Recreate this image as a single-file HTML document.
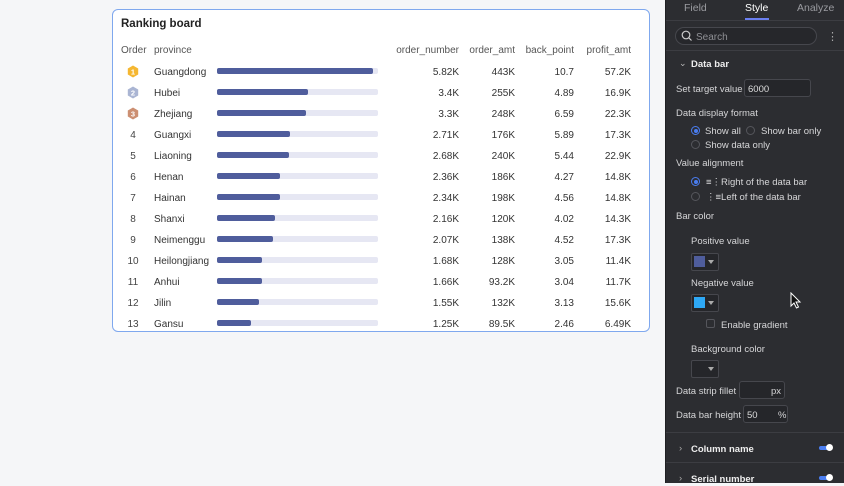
<!DOCTYPE html>
<html><head><meta charset="utf-8"><style>
*{margin:0;padding:0;box-sizing:border-box}
body{width:844px;height:483px;overflow:hidden;background:#f5f6f8;font-family:"Liberation Sans",sans-serif;position:relative}
.a{position:absolute;white-space:nowrap}
#card{position:absolute;left:112px;top:9px;width:538px;height:323px;background:#fff;border:1px solid #7fa8ee;border-radius:6px;overflow:hidden}
.t{font-size:10px;color:#333;line-height:14px;margin-top:1.5px}
.h{font-size:10px;color:#555;line-height:14px;margin-top:1.5px}
.r{text-align:right}
.bar{position:absolute;left:104px;width:161px;height:6px;background:#e6e7f3;border-radius:2px}
.bar i{position:absolute;left:0;top:0;height:6px;background:#4f5d9c;border-radius:2px}
#panel{position:absolute;left:665px;top:0;width:179px;height:483px;background:#2c2d31;border-left:1px solid #1f2023;color:#d6d6d8;font-size:9.5px}
.p{position:absolute;white-space:nowrap;line-height:12px;margin-top:1.5px}
.sep{position:absolute;left:0;width:179px;height:1px;background:#3c3d42}
.box{position:absolute;border:1px solid #46474d;border-radius:3px;background:#25262a}
.rad{position:absolute;width:9px;height:9px;border-radius:50%;border:1px solid #55565c}
.rad.on{border-color:#4a7df0}
.rad.on:after{content:"";position:absolute;left:1.5px;top:1.5px;width:4px;height:4px;border-radius:50%;background:#4a7df0}
.tri{position:absolute;width:0;height:0;border-left:3.5px solid transparent;border-right:3.5px solid transparent;border-top:4px solid #aaa}
.tog{position:absolute;width:12px;height:4px;background:#4a7df0;border-radius:2px}
.tog:after{content:"";position:absolute;right:-2px;top:-2px;width:7px;height:7px;border-radius:50%;background:#fff}
</style></head><body>
<div id="card">
<div class="a" style="left:8px;top:7px;font-size:11.5px;font-weight:bold;color:#222;line-height:14px">Ranking board</div>
<div class="a h" style="left:8px;top:32px">Order</div>
<div class="a h" style="left:41px;top:32px">province</div>
<div class="a h r" style="left:246px;width:100px;top:32px">order_number</div>
<div class="a h r" style="left:302px;width:100px;top:32px">order_amt</div>
<div class="a h r" style="left:361px;width:100px;top:32px">back_point</div>
<div class="a h r" style="left:418px;width:100px;top:32px">profit_amt</div>
<div id="rows"></div>
</div>
<div id="panel">
<div class="p" style="left:18px;top:0px;font-size:10.5px;color:#9a9ba0">Field</div>
<div class="p" style="left:79px;top:0px;font-size:10.5px;color:#fff">Style</div>
<div class="p" style="left:131px;top:0px;font-size:10.5px;color:#9a9ba0">Analyze</div>
<div class="a" style="left:79px;top:18px;width:24px;height:2px;background:#6b7ff0"></div>
<div class="sep" style="top:20px"></div>
<div class="box" style="left:9px;top:27px;width:142px;height:18px;border-radius:9px;background:#26272b"></div>
<svg class="a" style="left:15px;top:30px" width="12" height="12" viewBox="0 0 12 12"><circle cx="5" cy="5" r="3.8" fill="none" stroke="#ccc" stroke-width="1.2"/><line x1="7.8" y1="7.8" x2="10.5" y2="10.5" stroke="#ccc" stroke-width="1.2"/></svg>
<div class="p" style="left:30px;top:30px;font-size:10px;color:#8e8f94">Search</div>
<div class="p" style="left:161px;top:29px;font-size:11px;color:#aaa">&#8942;</div>
<div class="sep" style="top:50px"></div>
<div class="p" style="left:13px;top:55px;font-size:9px;color:#bbb">&#8964;</div>
<div class="p" style="left:25px;top:57px;font-weight:bold;color:#eee">Data bar</div>
<div class="p" style="left:10px;top:82px">Set target value</div>
<div class="box" style="left:78px;top:79px;width:67px;height:18px"></div>
<div class="p" style="left:82px;top:82px;color:#ddd">6000</div>
<div class="p" style="left:10px;top:106px">Data display format</div>
<div class="rad on" style="left:25px;top:126px"></div>
<div class="p" style="left:39px;top:124px">Show all</div>
<div class="rad" style="left:80px;top:126px"></div>
<div class="p" style="left:95px;top:124px">Show bar only</div>
<div class="rad" style="left:25px;top:140px"></div>
<div class="p" style="left:39px;top:138px">Show data only</div>
<div class="p" style="left:10px;top:156px">Value alignment</div>
<div class="rad on" style="left:25px;top:177px"></div>
<div class="p" style="left:40px;top:175px">&#8801;&#8942;Right of the data bar</div>
<div class="rad" style="left:25px;top:192px"></div>
<div class="p" style="left:40px;top:190px">&#8942;&#8801;Left of the data bar</div>
<div class="p" style="left:10px;top:209px">Bar color</div>
<div class="p" style="left:25px;top:234px">Positive value</div>
<div class="box" style="left:25px;top:253px;width:28px;height:18px;border-radius:2px"></div>
<div class="a" style="left:28px;top:256px;width:11px;height:11px;background:#4f5d9c"></div>
<div class="tri" style="left:42px;top:260px"></div>
<div class="p" style="left:25px;top:276px">Negative value</div>
<div class="box" style="left:25px;top:294px;width:28px;height:18px;border-radius:2px"></div>
<div class="a" style="left:28px;top:297px;width:11px;height:11px;background:#2ea8f5"></div>
<div class="tri" style="left:42px;top:301px"></div>
<svg class="a" style="left:124px;top:292px" width="12" height="18" viewBox="0 0 12 18"><path d="M1 1 L1 14 L4 11 L6.5 16 L8.5 15 L6 10 L10 10 Z" fill="#111" stroke="#fff" stroke-width="1"/></svg>
<div class="a" style="left:40px;top:319px;width:9px;height:9px;border:1px solid #55565c;border-radius:2px"></div>
<div class="p" style="left:55px;top:318px">Enable gradient</div>
<div class="p" style="left:25px;top:342px">Background color</div>
<div class="box" style="left:25px;top:360px;width:28px;height:18px;border-radius:2px"></div>
<div class="tri" style="left:42px;top:367px"></div>
<div class="p" style="left:10px;top:384px">Data strip fillet</div>
<div class="box" style="left:73px;top:381px;width:46px;height:18px"></div>
<div class="p" style="left:105px;top:384px">px</div>
<div class="p" style="left:10px;top:408px">Data bar height</div>
<div class="box" style="left:77px;top:405px;width:45px;height:18px"></div>
<div class="p" style="left:81px;top:408px;color:#ddd">50</div>
<div class="p" style="left:112px;top:408px">%</div>
<div class="sep" style="top:432px"></div>
<div class="p" style="left:13px;top:441px;color:#aaa">&#8250;</div>
<div class="p" style="left:25px;top:442px;font-weight:bold;color:#eee">Column name</div>
<div class="tog" style="left:153px;top:446px"></div>
<div class="sep" style="top:462px"></div>
<div class="p" style="left:13px;top:471px;color:#aaa">&#8250;</div>
<div class="p" style="left:25px;top:472px;font-weight:bold;color:#eee">Serial number</div>
<div class="tog" style="left:153px;top:476px"></div>
</div>
<script>
(function(){
var d=[["Guangdong",5.82,"5.82K","443K","10.7","57.2K"],["Hubei",3.4,"3.4K","255K","4.89","16.9K"],["Zhejiang",3.3,"3.3K","248K","6.59","22.3K"],["Guangxi",2.71,"2.71K","176K","5.89","17.3K"],["Liaoning",2.68,"2.68K","240K","5.44","22.9K"],["Henan",2.36,"2.36K","186K","4.27","14.8K"],["Hainan",2.34,"2.34K","198K","4.56","14.8K"],["Shanxi",2.16,"2.16K","120K","4.02","14.3K"],["Neimenggu",2.07,"2.07K","138K","4.52","17.3K"],["Heilongjiang",1.68,"1.68K","128K","3.05","11.4K"],["Anhui",1.66,"1.66K","93.2K","3.04","11.7K"],["Jilin",1.55,"1.55K","132K","3.13","15.6K"],["Gansu",1.25,"1.25K","89.5K","2.46","6.49K"]];
var cols=["#f5b731","#aab5d3","#cc8f72"];
var h="";
for(var i=0;i<d.length;i++){
 var cy=71+21*i-10, ty=cy-7, r=d[i];
 if(i<3){
  h+='<svg class="a" style="left:14px;top:'+(cy-6)+'px" width="12" height="13" viewBox="0 0 12 13"><polygon points="6,0.5 11.2,3.5 11.2,9.5 6,12.5 0.8,9.5 0.8,3.5" fill="'+cols[i]+'"/><text x="6" y="9.6" font-size="7.5" font-weight="bold" text-anchor="middle" fill="#fff" font-family="Liberation Sans">'+(i+1)+'</text></svg>';
 } else {
  h+='<div class="a t" style="left:0;width:40px;text-align:center;top:'+ty+'px;color:#444">'+(i+1)+'</div>';
 }
 h+='<div class="a t" style="left:41px;top:'+ty+'px">'+r[0]+'</div>';
 h+='<div class="bar" style="top:'+(cy-3)+'px"><i style="width:'+Math.round(r[1]/6*161)+'px"></i></div>';
 h+='<div class="a t r" style="left:246px;width:100px;top:'+ty+'px">'+r[2]+'</div>';
 h+='<div class="a t r" style="left:302px;width:100px;top:'+ty+'px">'+r[3]+'</div>';
 h+='<div class="a t r" style="left:361px;width:100px;top:'+ty+'px">'+r[4]+'</div>';
 h+='<div class="a t r" style="left:418px;width:100px;top:'+ty+'px">'+r[5]+'</div>';
}
document.getElementById("rows").innerHTML=h;
})();
</script>
</body></html>
